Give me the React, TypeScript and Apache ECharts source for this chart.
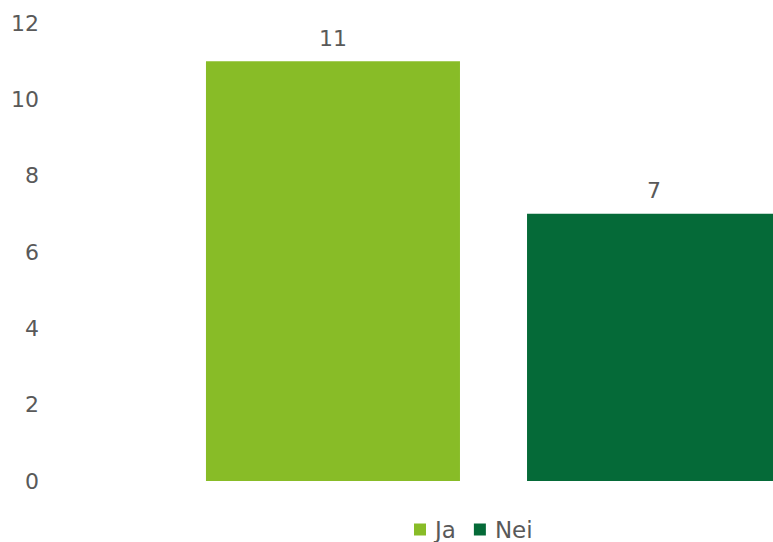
import React, { useEffect, useRef } from "react";
import * as echarts from "echarts";

const categories = ["Antall"];
const seriesNames = ["Ja", "Nei"];
const jaValues = [11];
const neiValues = [7];
const yTicks = { min: 0, max: 12, interval: 2 };

const colors = ["#88BC27", "#056A38"];
const textColor = "#595959";
const font = "DejaVu Sans";

export default function App() {
  const ref = useRef<HTMLDivElement>(null);
  useEffect(() => {
    if (!ref.current) return;
    const chart = echarts.init(ref.current, undefined, { renderer: "svg" });
    chart.setOption({
      animation: false,
      textStyle: { fontFamily: font },
      grid: { left: 47, right: 0, top: 23, bottom: 61, containLabel: false },
      legend: {
        left: 414,
        top: 518,
        padding: 0,
        itemWidth: 12,
        itemHeight: 12,
        itemGap: 18,
        icon: "rect",
        textStyle: { color: textColor, fontSize: 23, fontFamily: font, lineHeight: 22, padding: [0, 0, 0, 4] },
        data: seriesNames,
      },
      xAxis: {
        type: "category",
        data: categories,
        axisLine: { show: false },
        axisTick: { show: false },
        axisLabel: { show: false },
      },
      yAxis: {
        type: "value",
        min: yTicks.min,
        max: yTicks.max,
        interval: yTicks.interval,
        splitLine: { show: false },
        axisLine: { show: false },
        axisTick: { show: false },
        axisLabel: { color: textColor, fontSize: 22, fontFamily: font, margin: 8 },
      },
      series: [
        {
          name: seriesNames[0],
          type: "bar",
          data: jaValues,
          barWidth: 254,
          barGap: "26.4%",
          itemStyle: { color: colors[0] },
          label: { show: true, position: "top", distance: 12, color: textColor, fontSize: 22, fontFamily: font },
        },
        {
          name: seriesNames[1],
          type: "bar",
          data: neiValues,
          barWidth: 254,
          itemStyle: { color: colors[1] },
          label: { show: true, position: "top", distance: 12, color: textColor, fontSize: 22, fontFamily: font },
        },
      ],
    });
    return () => chart.dispose();
  }, []);
  return (
    <div style={{ position: "fixed", left: 0, top: 0, width: 773, height: 542, overflow: "hidden", background: "#fff" }}>
      <div ref={ref} style={{ width: 940, height: 542 }} />
    </div>
  );
}
